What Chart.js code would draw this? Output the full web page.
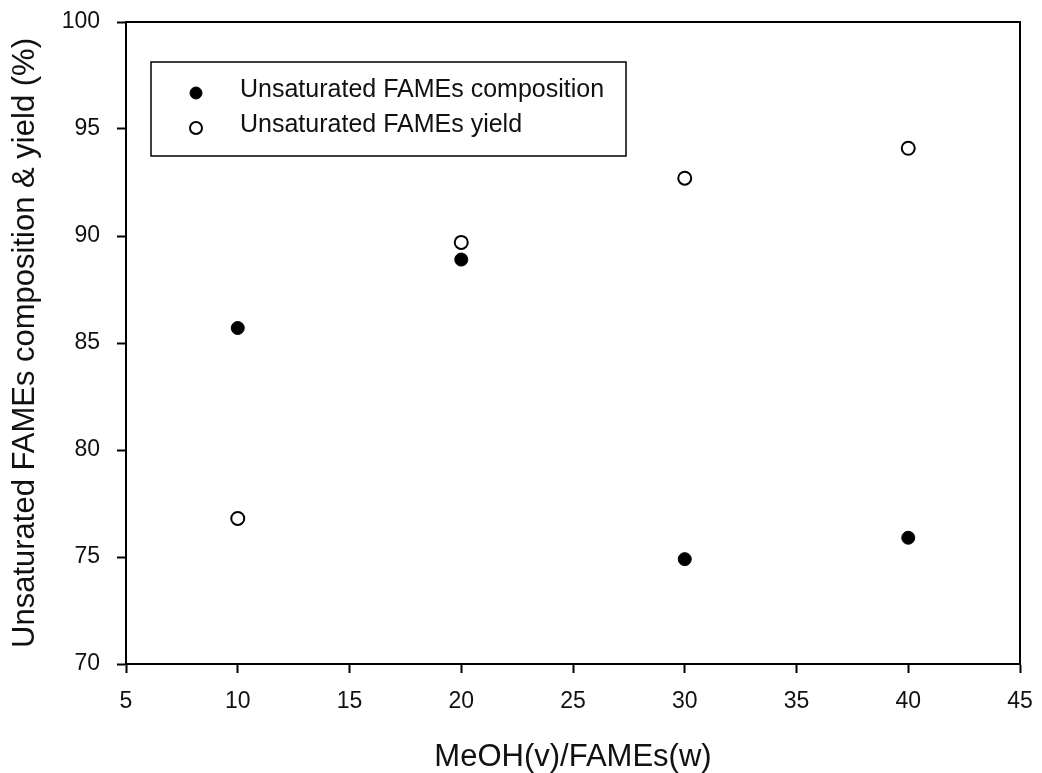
<!DOCTYPE html>
<html>
<head>
<meta charset="utf-8">
<title>Unsaturated FAMEs vs MeOH ratio</title>
<script src="https://cdn.jsdelivr.net/npm/chart.js@4"></script>
<style>
    body { margin: 0; background: #fff; }
    canvas { display: block; }
</style>
</head>
<body>
<canvas id="famesChart" width="1042" height="773"></canvas>
<script>
// MeOH(v)/FAMEs(w) ratios
const ratios = [10, 20, 30, 40];
// Unsaturated FAMEs composition (%)
const compositionValues = [85.7, 88.9, 74.9, 75.9];
// Unsaturated FAMEs yield (%)
const yieldValues = [76.8, 89.7, 92.7, 94.1];

const seriesLabels = ['Unsaturated FAMEs composition', 'Unsaturated FAMEs yield'];
const xTitle = 'MeOH(v)/FAMEs(w)';
const yTitle = 'Unsaturated FAMEs composition & yield (%)';

const fontFamily = "'Liberation Sans', Arial, sans-serif";

const toPoints = (values) => ratios.map((x, i) => ({ x: x, y: values[i] }));

// Frame on the top and right edges of the plot, like a boxed axis
const framePlugin = {
    id: 'frame',
    afterDraw: (chart) => {
        const { ctx, chartArea } = chart;
        ctx.save();
        ctx.strokeStyle = '#000';
        ctx.lineWidth = 2;
        ctx.beginPath();
        ctx.moveTo(chartArea.left, chartArea.top);
        ctx.lineTo(chartArea.right, chartArea.top);
        ctx.lineTo(chartArea.right, chartArea.bottom);
        ctx.stroke();
        ctx.restore();
    }
};

// Boxed legend inside the plot, upper left
const boxLegendPlugin = {
    id: 'boxLegend',
    afterDraw: (chart) => {
        const { ctx } = chart;
        const box = { x: 151, y: 62, w: 475, h: 94 };
        ctx.save();
        ctx.fillStyle = '#fff';
        ctx.fillRect(box.x, box.y, box.w, box.h);
        ctx.strokeStyle = '#000';
        ctx.lineWidth = 1.5;
        ctx.strokeRect(box.x, box.y, box.w, box.h);

        const rows = [box.y + 31, box.y + 66];
        chart.data.datasets.forEach((ds, i) => {
            const cy = rows[i];
            ctx.beginPath();
            ctx.arc(box.x + 45, cy, 6, 0, Math.PI * 2);
            ctx.fillStyle = ds.backgroundColor;
            ctx.fill();
            ctx.lineWidth = ds.borderWidth;
            ctx.strokeStyle = ds.borderColor;
            ctx.stroke();

            ctx.fillStyle = '#111';
            ctx.font = '25px ' + fontFamily;
            ctx.textAlign = 'left';
            ctx.textBaseline = 'middle';
            ctx.fillText(ds.label, box.x + 89, cy - 3);
        });
        ctx.restore();
    }
};

// Keep edge tick labels from pushing the plot area inwards
const noEdgePadding = (scale) => {
    scale.paddingTop = 0;
    scale.paddingBottom = 0;
    scale.paddingLeft = 0;
    scale.paddingRight = 0;
};

new Chart(document.getElementById('famesChart').getContext('2d'), {
    type: 'scatter',
    data: {
        datasets: [
            {
                label: seriesLabels[0],
                data: toPoints(compositionValues),
                backgroundColor: '#000',
                borderColor: '#000',
                borderWidth: 1,
                pointRadius: 6.5
            },
            {
                label: seriesLabels[1],
                data: toPoints(yieldValues),
                backgroundColor: '#fff',
                borderColor: '#000',
                borderWidth: 2,
                pointRadius: 6.5
            }
        ]
    },
    options: {
        responsive: false,
        animation: false,
        layout: { padding: { top: 22, right: 22, left: 0, bottom: 0 } },
        plugins: {
            legend: { display: false },
            tooltip: { enabled: false }
        },
        scales: {
            x: {
                type: 'linear',
                min: 5,
                max: 45,
                ticks: {
                    stepSize: 5,
                    color: '#111',
                    padding: 15,
                    font: { family: fontFamily, size: 23 }
                },
                grid: {
                    drawOnChartArea: false,
                    drawTicks: true,
                    tickLength: 9,
                    tickWidth: 2,
                    tickColor: '#000'
                },
                border: { color: '#000', width: 2 },
                title: {
                    display: true,
                    text: xTitle,
                    color: '#111',
                    padding: { top: 0, bottom: 0 },
                    font: { family: fontFamily, size: 31, lineHeight: 1 }
                },
                afterFit: (scale) => {
                    scale.height = 109;
                    noEdgePadding(scale);
                }
            },
            y: {
                type: 'linear',
                min: 70,
                max: 100,
                ticks: {
                    stepSize: 5,
                    color: '#111',
                    padding: 17,
                    font: { family: fontFamily, size: 23 }
                },
                grid: {
                    drawOnChartArea: false,
                    drawTicks: true,
                    tickLength: 9,
                    tickWidth: 2,
                    tickColor: '#000'
                },
                border: { color: '#000', width: 2 },
                title: {
                    display: true,
                    text: yTitle,
                    color: '#111',
                    padding: { top: 10, bottom: 0 },
                    font: { family: fontFamily, size: 31, lineHeight: 1 }
                },
                afterFit: (scale) => {
                    scale.width = 126;
                    noEdgePadding(scale);
                }
            }
        }
    },
    plugins: [framePlugin, boxLegendPlugin]
});
</script>
</body>
</html>
